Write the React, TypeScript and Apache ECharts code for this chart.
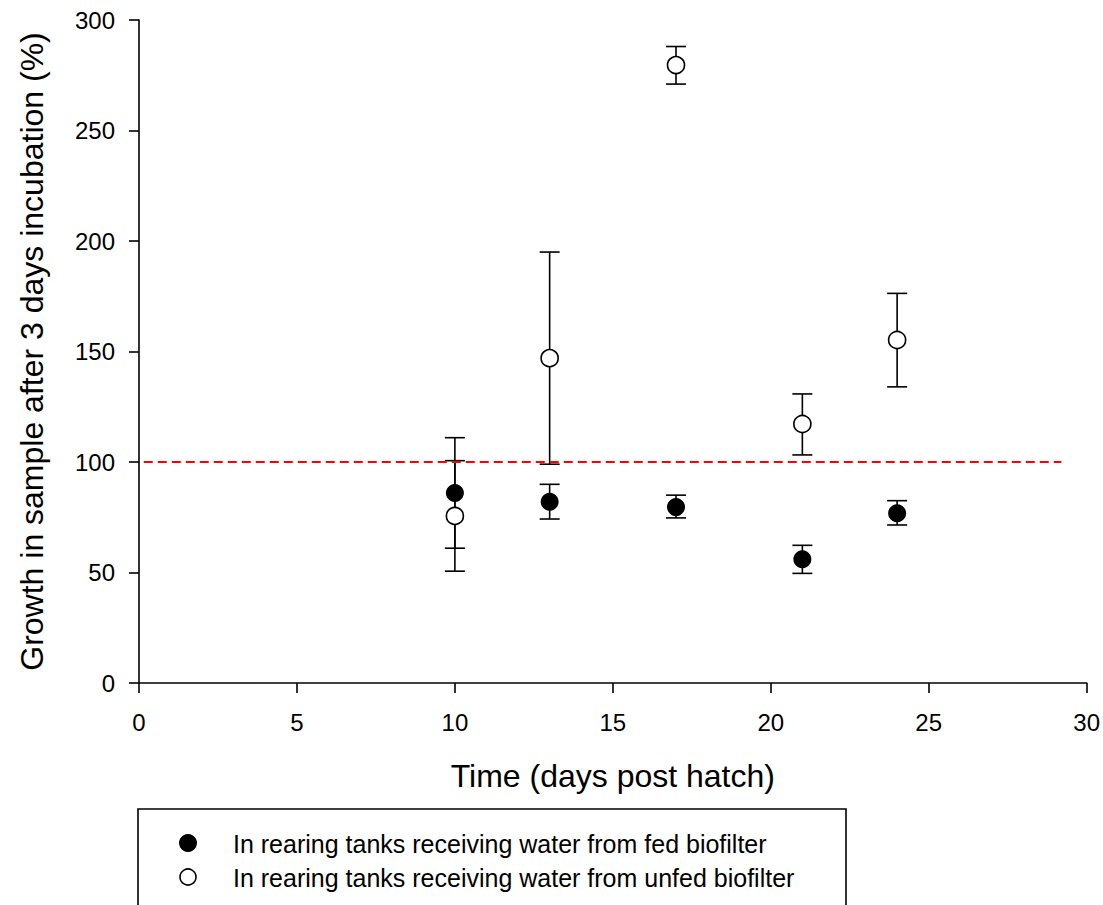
import React, { useEffect, useRef } from "react";
import * as echarts from "echarts";

const days = [10, 13, 17, 21, 24];
const fedMean = [86, 82, 79.6, 56, 76.8];
const fedLow = [61, 74.2, 74.7, 49.6, 71.5];
const fedHigh = [111, 89.9, 85, 62.3, 82.5];
const unfedMean = [75.6, 147, 279.6, 117.2, 155.2];
const unfedLow = [50.6, 99, 271, 103.2, 134];
const unfedHigh = [100.6, 195, 288, 130.8, 176.3];
const refLine = [[0.15, 100], [29.2, 100]];
const xTicks = { min: 0, max: 30, interval: 5 };
const yTicks = { min: 0, max: 300, interval: 50 };
const legendLabels = [
  "In rearing tanks receiving water from fed biofilter",
  "In rearing tanks receiving water from unfed biofilter",
];

const FONT = "Arial, 'Liberation Sans', sans-serif";

function errorSeries(name: string, low: number[], high: number[]) {
  return {
    name,
    type: "custom",
    z: 1,
    silent: true,
    data: days.map((d, i) => [d, low[i], high[i]]),
    encode: { x: 0, y: [1, 2] },
    renderItem: (params: any, api: any) => {
      const x = api.value(0);
      const lo = api.coord([x, api.value(1)]);
      const hi = api.coord([x, api.value(2)]);
      const hw = 10;
      const style = { stroke: "#000", lineWidth: 1.6, fill: null };
      return {
        type: "group",
        children: [
          { type: "line", shape: { x1: lo[0], y1: lo[1], x2: hi[0], y2: hi[1] }, style },
          { type: "line", shape: { x1: lo[0] - hw, y1: lo[1], x2: lo[0] + hw, y2: lo[1] }, style },
          { type: "line", shape: { x1: hi[0] - hw, y1: hi[1], x2: hi[0] + hw, y2: hi[1] }, style },
        ],
      };
    },
  };
}

export default function App() {
  const ref = useRef<HTMLDivElement>(null);
  useEffect(() => {
    if (!ref.current) return;
    const chart = echarts.init(ref.current, null, { renderer: "svg" });
    const axisCommon = {
      axisLine: { lineStyle: { color: "#000", width: 1.6 } },
      axisTick: { show: true, inside: false, length: 10, lineStyle: { color: "#000", width: 1.6 } },
      splitLine: { show: false },
      axisLabel: { color: "#000", fontSize: 24, fontFamily: FONT },
      nameTextStyle: { color: "#000", fontSize: 32, fontFamily: FONT },
      nameLocation: "middle",
      nameMoveOverlap: false,
    };
    chart.setOption({
      animation: false,
      backgroundColor: "#fff",
      grid: { left: 139, right: 16, top: 20, bottom: 222, containLabel: false },
      xAxis: {
        type: "value",
        ...xTicks,
        ...axisCommon,
        axisLabel: { ...axisCommon.axisLabel, margin: 27 },
        name: "Time (days post hatch)",
        nameGap: 77,
      },
      yAxis: {
        type: "value",
        ...yTicks,
        ...axisCommon,
        axisLabel: { ...axisCommon.axisLabel, margin: 24 },
        name: "Growth in sample after 3 days incubation (%)",
        nameGap: 91,
      },
      series: [
        errorSeries("fedErr", fedLow, fedHigh),
        errorSeries("unfedErr", unfedLow, unfedHigh),
        {
          name: "ref",
          type: "line",
          z: 2,
          data: refLine,
          symbol: "none",
          silent: true,
          lineStyle: { color: "#ff0000", width: 2, type: [9, 5] },
        },
        {
          name: legendLabels[0],
          type: "scatter",
          z: 3,
          symbol: "circle",
          symbolSize: 18,
          data: days.map((d, i) => [d, fedMean[i]]),
          itemStyle: { color: "#000", opacity: 1 },
        },
        {
          name: legendLabels[1],
          type: "scatter",
          z: 3,
          symbol: "circle",
          symbolSize: 17,
          data: days.map((d, i) => [d, unfedMean[i]]),
          itemStyle: { color: "#fff", borderColor: "#000", borderWidth: 1.6, opacity: 1 },
        },
      ],
      graphic: [
        {
          type: "rect",
          shape: { x: 138, y: 809, width: 708, height: 120 },
          style: { fill: "none", stroke: "#000", lineWidth: 1.6 },
        },
        {
          type: "circle",
          shape: { cx: 188, cy: 843, r: 9 },
          style: { fill: "#000" },
        },
        {
          type: "circle",
          shape: { cx: 188, cy: 877, r: 8 },
          style: { fill: "#fff", stroke: "#000", lineWidth: 1.6 },
        },
        {
          type: "text",
          x: 233,
          y: 844,
          style: { text: legendLabels[0], fontSize: 25, fontFamily: FONT, fill: "#000", verticalAlign: "middle" },
        },
        {
          type: "text",
          x: 233,
          y: 878,
          style: { text: legendLabels[1], fontSize: 25, fontFamily: FONT, fill: "#000", verticalAlign: "middle" },
        },
      ],
    });
    return () => chart.dispose();
  }, []);
  return <div ref={ref} style={{ width: 1103, height: 905, position: "absolute", left: 0, top: 0 }} />;
}
